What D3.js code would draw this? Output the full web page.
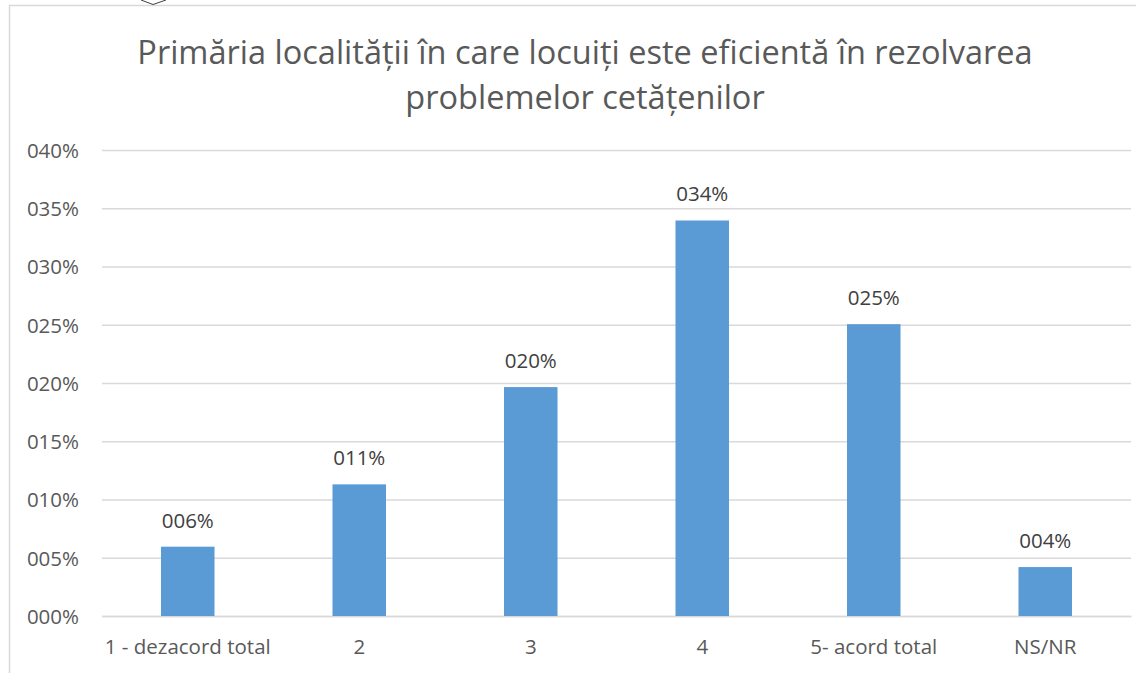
<!DOCTYPE html>
<html>
<head>
<meta charset="utf-8">
<script src="https://cdn.jsdelivr.net/npm/d3@7"></script>
<style>
  html, body { margin: 0; padding: 0; background: #fff; }
  svg { display: block; }
  text { font-family: "Open Sans", "Noto Sans", sans-serif; }
</style>
</head>
<body>
<svg id="chart" width="1145" height="673"></svg>
<script>
// Survey answers: share of respondents per agreement level
const categories = ["1 - dezacord total", "2", "3", "4", "5- acord total", "NS/NR"];
const values = [0.0595, 0.113, 0.1965, 0.3395, 0.2505, 0.042];
const yTicks = [0, 0.05, 0.10, 0.15, 0.20, 0.25, 0.30, 0.35, 0.40];
const titleLines = [
  "Primăria localității în care locuiți este eficientă în rezolvarea",
  "problemelor cetățenilor"
];

const svg = d3.select("#chart");
const W = 1145, H = 673;
const plot = { left: 102, right: 1131, top: 150, bottom: 616 };
const labelSize = 20.5;

// Pads the rounded percentage to three digits, e.g. 0.06 -> "006%"
const pct = v => d3.format("03d")(Math.round(v * 100)) + "%";

// chart frame
svg.append("path")
  .attr("d", `M9.5,${H} V5.5 H1136`)
  .attr("fill", "none")
  .attr("stroke", "#d9d9d9")
  .attr("stroke-width", 1.5);

// small handle mark on the frame's top edge
svg.append("path")
  .attr("d", "M141,0 L153,4.5 L166,0")
  .attr("fill", "none")
  .attr("stroke", "#404040")
  .attr("stroke-width", 1);

const x = d3.scaleBand()
  .domain(categories)
  .range([plot.left, plot.right])
  .paddingInner(0.688)
  .paddingOuter(0.344);

const y = d3.scaleLinear()
  .domain([0, 0.40])
  .range([plot.bottom, plot.top]);

// horizontal gridlines
const yAxis = d3.axisLeft(y)
  .tickValues(yTicks)
  .tickSize(-(plot.right - plot.left))
  .tickPadding(23)
  .tickFormat(pct);

const gy = svg.append("g")
  .attr("transform", `translate(${plot.left},0)`)
  .call(yAxis);
gy.select(".domain").remove();
gy.selectAll(".tick line")
  .attr("stroke", "#d9d9d9")
  .attr("stroke-width", 1.3);
gy.selectAll(".tick text")
  .attr("fill", "#595959")
  .attr("font-size", labelSize)
  .attr("dy", "0.36em");

// category axis
const xAxis = d3.axisBottom(x).tickSize(0).tickPadding(38);
const gx = svg.append("g")
  .attr("transform", `translate(0,${plot.bottom})`)
  .call(xAxis);
gx.select(".domain")
  .attr("stroke", "#d9d9d9")
  .attr("stroke-width", 1.3);
gx.selectAll(".tick text")
  .attr("fill", "#595959")
  .attr("font-size", labelSize)
  .attr("dy", "0");

// bars
svg.append("g")
  .selectAll("rect")
  .data(values)
  .join("rect")
  .attr("x", (d, i) => x(categories[i]))
  .attr("width", x.bandwidth())
  .attr("y", d => y(d))
  .attr("height", d => y(0) - y(d))
  .attr("fill", "#5b9bd5");

// value labels above bars
svg.append("g")
  .selectAll("text")
  .data(values)
  .join("text")
  .attr("x", (d, i) => x(categories[i]) + x.bandwidth() / 2)
  .attr("y", d => y(d) - 19)
  .attr("text-anchor", "middle")
  .attr("fill", "#404040")
  .attr("font-size", labelSize)
  .text(pct);

// title
svg.append("g")
  .selectAll("text")
  .data(titleLines)
  .join("text")
  .attr("x", 585)
  .attr("y", (d, i) => 64 + i * 45)
  .attr("text-anchor", "middle")
  .attr("fill", "#595959")
  .attr("font-size", 32.5)
  .text(d => d);
</script>
</body>
</html>
